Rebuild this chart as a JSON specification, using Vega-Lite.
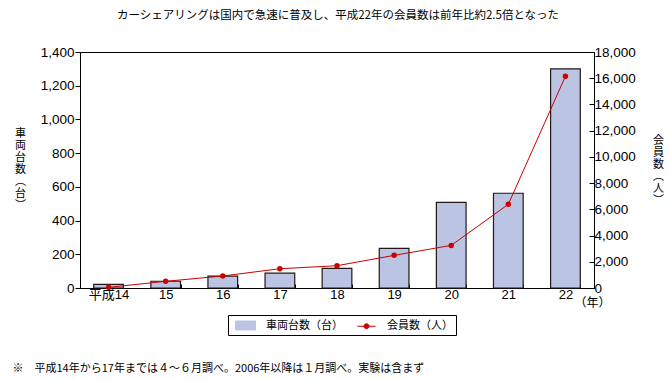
{
  "$schema": "https://vega.github.io/schema/vega-lite/v6.json",
  "padding": {"left": 12, "top": 10, "right": 5, "bottom": 5},
  "background": "white",
  "config": {
    "font": "Noto Sans CJK JP",
    "view": {"stroke": "#000", "strokeWidth": 1},
    "title": {"fontWeight": "normal", "color": "#000", "font": "Noto Sans CJK JP"},
    "legend": {
      "symbolType": {"expr": "datum.value === '車両台数（台）' ? 'M-1.43,-0.64H1.43V0.64H-1.43Z' : 'M-1.3,0H1.3M-0.36,0A0.36,0.36 0 1,0 0.36,0A0.36,0.36 0 1,0 -0.36,0'"},
      "symbolStrokeColor": {"expr": "datum.value === '車両台数（台）' ? '#231815' : '#cc0000'"},
      "symbolFillColor": {"expr": "datum.value === '車両台数（台）' ? '#bcc4e4' : '#cc0000'"},
      "symbolStrokeWidth": 1
    }
  },
  "title": {"text": "カーシェアリングは国内で急速に普及し、平成22年の会員数は前年比約2.5倍となった", "fontSize": 11.5, "offset": 23, "anchor": "middle"},
  "vconcat": [
    {
      "width": 514,
      "height": 236,
      "title": {"text": "※　平成14年から17年までは４～６月調べ。2006年以降は１月調べ。実験は含まず", "orient": "bottom", "anchor": "start", "fontSize": 11, "offset": 55, "dx": -2},
      "data": {"values": [
        {"year": "14", "cars": 22, "members": 50},
        {"year": "15", "cars": 40, "members": 510},
        {"year": "16", "cars": 70, "members": 915},
        {"year": "17", "cars": 88, "members": 1470},
        {"year": "18", "cars": 117, "members": 1700},
        {"year": "19", "cars": 235, "members": 2490},
        {"year": "20", "cars": 508, "members": 3250},
        {"year": "21", "cars": 562, "members": 6385},
        {"year": "22", "cars": 1300, "members": 16150}
      ]},
      "encoding": {
        "x": {
          "field": "year", "type": "nominal", "sort": null,
          "scale": {"paddingInner": 0.48, "paddingOuter": 0.24},
          "axis": {
            "title": "（年）", "titleX": 494, "titleY": 14, "titleAlign": "left", "titleBaseline": "middle",
            "titleFont": "Noto Sans CJK JP", "titleFontSize": 12, "titleFontWeight": "normal", "titleColor": "#000",
            "labelAngle": 0, "labelExpr": "datum.value == '14' ? '平成14' : datum.value",
            "labelFont": "Liberation Sans, Noto Sans CJK JP", "labelFontSize": 13, "labelColor": "#000", "labelPadding": 4,
            "domainColor": "#000", "tickColor": "#000", "tickSize": -4, "tickBand": "extent", "grid": false
          }
        }
      },
      "layer": [
        {
          "mark": {"type": "bar", "stroke": "#231815", "strokeWidth": 1.2},
          "encoding": {
            "y": {
              "field": "cars", "type": "quantitative",
              "scale": {"domain": [0, 1400]},
              "axis": {
                "title": ["車", "両", "台", "数", "︵", "台", "︶"], "titleAngle": 0, "titleX": -60, "titleY": 75,
                "titleAlign": "center", "titleBaseline": "top", "titleLineHeight": 12,
                "titleFont": "Noto Sans CJK JP", "titleFontSize": 11, "titleFontWeight": "normal", "titleColor": "#000",
                "values": [0, 200, 400, 600, 800, 1000, 1200, 1400], "format": ",d",
                "labelFont": "Liberation Sans", "labelFontSize": 13.5, "labelColor": "#000", "labelPadding": 1,
                "domainColor": "#000", "tickColor": "#000", "tickSize": 5, "grid": false
              }
            },
            "color": {
              "datum": "車両台数（台）", "type": "nominal",
              "scale": {"domain": ["車両台数（台）", "会員数（人）"], "range": ["#bcc4e4", "#cc0000"]},
              "legend": {
                "orient": "none", "legendX": 148, "legendY": 263, "direction": "horizontal", "title": null,
                "strokeColor": "#000", "padding": 3, "columnPadding": 9,
                "labelFont": "Noto Sans CJK JP", "labelFontSize": 11, "labelColor": "#000", "labelOffset": 13,
                "symbolSize": 196, "symbolOffset": 7
              }
            }
          }
        },
        {
          "layer": [
            {"mark": {"type": "line", "strokeWidth": 1}},
            {"mark": {"type": "point", "filled": true, "size": 30, "opacity": 1}}
          ],
          "encoding": {
            "y": {
              "field": "members", "type": "quantitative",
              "scale": {"domain": [0, 18000]},
              "axis": {
                "orient": "right",
                "title": ["会", "員", "数", "︵", "人", "︶"], "titleAngle": 0, "titleX": 64, "titleY": 82,
                "titleAlign": "center", "titleBaseline": "top", "titleLineHeight": 12,
                "titleFont": "Noto Sans CJK JP", "titleFontSize": 11, "titleFontWeight": "normal", "titleColor": "#000",
                "values": [0, 2000, 4000, 6000, 8000, 10000, 12000, 14000, 16000, 18000], "format": ",d",
                "labelFont": "Liberation Sans", "labelFontSize": 13.5, "labelColor": "#000", "labelPadding": 5,
                "domainColor": "#000", "tickColor": "#000", "tickSize": -5, "grid": false
              }
            },
            "color": {"datum": "会員数（人）", "type": "nominal", "legend": null}
          }
        }
      ],
      "resolve": {"scale": {"y": "independent"}}
    }
  ]
}
